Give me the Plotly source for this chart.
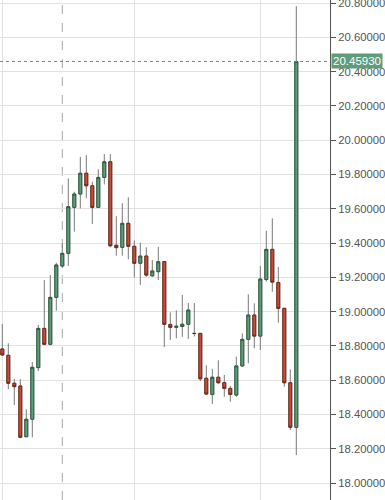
import plotly.graph_objects as go

candle_index = list(range(50))
open_prices = [18.782, 18.745, 18.582, 18.566, 18.270, 18.372, 18.673, 18.902, 18.809, 19.083,
               19.266, 19.340, 19.608, 19.686, 19.807, 19.734, 19.608, 19.783, 19.874, 19.387,
               19.375, 19.515, 19.381, 19.282, 19.324, 19.209, 19.233, 19.292, 18.925, 18.908,
               18.913, 18.926, 18.873, 18.873, 18.611, 18.516, 18.617, 18.585, 18.552, 18.513,
               18.683, 18.838, 18.980, 18.857, 19.187, 19.363, 19.170, 19.019, 18.585, 18.325]
high_prices = [18.927, 18.815, 18.607, 18.605, 18.430, 18.706, 18.922, 19.184, 19.213, 19.285,
               19.400, 19.777, 19.699, 19.903, 19.913, 19.758, 19.830, 19.919, 19.919, 19.557,
               19.632, 19.667, 19.416, 19.402, 19.375, 19.301, 19.378, 19.295, 18.996, 19.007,
               19.097, 19.050, 19.050, 18.873, 18.687, 18.666, 18.716, 18.630, 18.566, 18.737,
               18.873, 19.101, 19.048, 19.266, 19.472, 19.544, 19.260, 19.019, 18.663, 20.782]
low_prices = [18.741, 18.547, 18.455, 18.261, 18.268, 18.267, 18.653, 18.808, 18.808, 19.005,
              19.254, 19.266, 19.466, 19.602, 19.661, 19.511, 19.607, 19.742, 19.375, 19.326,
              19.326, 19.305, 19.199, 19.155, 19.203, 19.203, 19.184, 18.793, 18.834, 18.844,
              18.853, 18.841, 18.855, 18.595, 18.513, 18.461, 18.579, 18.503, 18.474, 18.503,
              18.678, 18.698, 18.786, 18.776, 19.174, 19.116, 18.935, 18.562, 18.309, 18.163]
close_prices = [18.747, 18.582, 18.562, 18.267, 18.372, 18.675, 18.902, 18.809, 19.083, 19.272,
                19.340, 19.612, 19.686, 19.807, 19.734, 19.608, 19.783, 19.874, 19.384, 19.373,
                19.515, 19.381, 19.282, 19.324, 19.213, 19.237, 19.291, 18.926, 18.908, 18.914,
                18.926, 19.009, 18.872, 18.608, 18.519, 18.617, 18.585, 18.552, 18.517, 18.683,
                18.838, 18.980, 18.857, 19.190, 19.363, 19.172, 19.019, 18.585, 18.325, 20.4593]

last_price = 20.4593
last_price_label = "20.45930"
grid_positions = [0, 22, 43]
crosshair_position = 10

GREEN_FILL = "#5f9e7b"
GREEN_EDGE = "#2e5b42"
RED_FILL = "#c4503b"
RED_EDGE = "#6e2a1e"
WICK = "#7a7a7a"
FONT = "Liberation Sans, Arial"

body_high = [max(o, c) for o, c in zip(open_prices, close_prices)]
body_low = [min(o, c) for o, c in zip(open_prices, close_prices)]

fig = go.Figure()
# wicks (gray)
fig.add_trace(go.Candlestick(
    x=candle_index, open=open_prices, high=high_prices, low=low_prices, close=close_prices,
    increasing=dict(line=dict(color=WICK, width=1), fillcolor=GREEN_FILL),
    decreasing=dict(line=dict(color=WICK, width=1), fillcolor=RED_FILL),
    showlegend=False, hoverinfo="skip"))
# bodies with dark outlines
fig.add_trace(go.Candlestick(
    x=candle_index, open=open_prices, high=body_high, low=body_low, close=close_prices,
    increasing=dict(line=dict(color=GREEN_EDGE, width=1), fillcolor=GREEN_FILL),
    decreasing=dict(line=dict(color=RED_EDGE, width=1), fillcolor=RED_FILL),
    showlegend=False))

fig.add_shape(type="line", xref="x", yref="paper", x0=crosshair_position, x1=crosshair_position,
              y0=0, y1=1, line=dict(color="#a8a8a8", width=1, dash="dash"), layer="below")
fig.add_shape(type="line", xref="paper", yref="y", x0=0, x1=1, y0=last_price, y1=last_price,
              line=dict(color="#5a9a78", width=1, dash="dot"))
fig.add_annotation(xref="paper", yref="y", x=1, y=last_price, xanchor="left", yanchor="middle",
                   text=last_price_label, showarrow=False, bgcolor="#5e9c7a",
                   font=dict(color="white", size=11.5, family=FONT),
                   borderpad=1, xshift=1)

fig.update_layout(
    width=385, height=500,
    margin=dict(l=0, r=55, t=0, b=0),
    paper_bgcolor="white", plot_bgcolor="white",
    xaxis=dict(range=[-0.383, 54.617], rangeslider=dict(visible=False),
               tickmode="array", tickvals=grid_positions, showticklabels=False,
               showgrid=True, gridcolor="#e2e2e2", gridwidth=1, zeroline=False,
               showline=False, ticks=""),
    yaxis=dict(side="right", range=[17.9008, 20.818], tick0=18, dtick=0.2,
               tickformat=".5f", showgrid=True, gridcolor="#e2e2e2", gridwidth=1,
               ticks="outside", ticklen=5, tickcolor="#555555",
               showline=True, linecolor="#555555", linewidth=1, zeroline=False,
               automargin=False, ticklabeloverflow="allow",
               tickfont=dict(family=FONT, size=11.3, color="#555555")),
    boxgap=0.3,
)

fig.write_html("out.html", config={"displayModeBar": False},
               post_script="document.body.style.margin='0';document.body.style.overflow='hidden';")
